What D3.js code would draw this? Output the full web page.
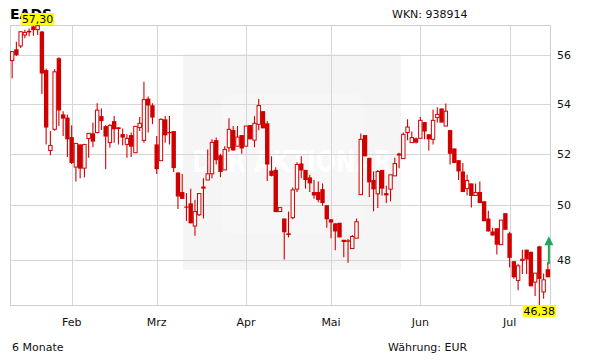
<!DOCTYPE html>
<html><head><meta charset="utf-8">
<script src="https://cdn.jsdelivr.net/npm/d3@7"></script>
<style>html,body{margin:0;padding:0;background:#fff}svg{display:block;font-family:"DejaVu Sans",sans-serif}</style>
</head><body>
<script>
const title = "EADS";
const wkn = "WKN: 938914";
const periodLabel = "6 Monate";
const currencyLabel = "Währung: EUR";
const open  = [55.78,56.26,56.40,56.87,57.05,57.24,57.10,57.02,55.38,52.12,52.96,55.88,53.56,53.43,52.65,51.47,52.36,51.43,52.59,52.80,52.83,53.49,53.09,52.43,53.29,53.04,52.77,52.36,52.73,52.03,53.03,52.52,54.20,53.93,52.36,51.72,53.36,52.85,52.89,51.26,50.51,49.96,50.08,49.23,49.65,50.72,50.97,51.21,52.53,51.93,51.36,52.23,52.93,52.29,52.73,52.29,53.13,52.53,53.16,53.69,53.20,51.33,51.36,49.77,49.51,48.96,49.54,50.62,51.61,51.36,51.07,50.51,50.51,50.62,50.01,49.48,49.33,49.35,48.72,48.70,48.40,48.78,50.41,52.73,51.83,50.97,50.44,51.36,50.47,50.62,51.13,52.00,51.80,52.83,52.43,52.60,52.60,53.25,52.76,52.56,53.43,53.80,53.09,52.93,52.20,51.74,51.30,50.64,50.84,50.38,50.51,50.16,49.51,49.03,49.15,48.54,49.71,48.96,47.94,47.25,47.97,48.36,48.28,47.19,48.48,46.84,47.65];
const high  = [56.19,56.58,57.02,57.10,57.15,57.27,57.30,57.04,55.45,52.89,55.42,55.92,53.69,53.56,53.12,52.40,52.36,52.36,52.80,53.23,54.01,53.80,53.12,53.16,53.49,53.04,52.99,52.76,52.83,53.08,53.45,54.90,54.29,54.01,52.69,53.40,53.49,53.49,52.89,51.26,51.20,50.47,50.64,50.22,50.47,51.04,52.16,52.56,52.63,51.99,52.29,53.40,53.09,53.09,52.73,53.09,53.13,53.49,54.19,53.69,53.29,51.89,51.46,49.95,49.51,49.77,50.68,51.66,51.89,51.36,51.17,50.97,50.91,50.84,50.01,49.48,49.33,49.35,48.72,48.75,48.90,49.51,52.79,52.73,51.83,51.30,51.36,51.36,50.75,51.17,51.83,52.03,52.83,53.36,52.87,52.63,53.45,53.25,52.76,53.76,53.85,53.80,54.00,52.93,52.20,51.74,51.63,51.17,50.84,50.84,50.91,50.16,49.80,49.17,49.15,49.45,49.71,49.02,47.94,47.85,48.36,48.36,48.28,47.51,48.50,47.50,47.91];
const low   = [55.04,55.97,56.31,56.73,56.81,56.84,56.87,54.39,52.36,51.93,52.90,53.09,52.69,51.86,51.59,50.91,51.04,51.07,51.83,52.25,52.80,52.93,51.39,52.23,52.43,52.36,52.32,51.83,51.86,52.03,52.89,52.43,52.83,53.16,51.20,51.72,52.43,52.36,51.28,49.87,50.25,49.42,49.33,48.87,49.60,49.51,50.97,51.04,51.57,51.08,51.36,52.07,52.12,52.29,51.99,52.29,52.56,52.25,52.92,53.00,50.93,51.11,49.75,49.75,48.00,48.81,49.48,50.51,51.04,50.64,50.51,50.25,50.12,49.99,49.17,48.78,48.34,48.81,48.08,47.88,48.40,48.78,50.41,51.89,50.32,49.78,49.90,50.38,50.09,50.16,51.13,51.43,51.80,52.52,52.43,52.40,52.60,52.56,52.12,52.36,53.23,53.23,53.09,51.57,51.63,50.97,50.51,50.38,49.92,50.38,50.09,49.41,49.03,48.88,48.18,48.54,49.09,47.71,47.31,46.90,47.48,47.48,47.04,46.70,46.38,46.60,47.36];
const close = [56.16,56.01,57.01,56.98,56.98,57.08,57.27,55.24,53.03,52.32,55.31,53.72,53.39,52.56,51.63,52.40,51.41,52.36,52.80,52.47,53.73,53.29,52.67,53.12,52.96,52.97,52.63,52.60,52.27,53.08,53.20,54.16,53.92,53.43,51.39,53.36,52.72,52.80,51.43,50.34,50.25,49.92,49.33,49.77,50.45,50.64,51.21,52.44,51.74,51.28,52.16,52.96,52.12,52.65,52.20,53.09,52.56,53.20,53.92,53.00,51.57,51.13,49.75,49.92,49.00,48.90,50.59,51.57,51.34,50.97,50.84,50.38,50.21,50.09,49.48,49.36,49.03,48.81,48.64,48.65,48.84,49.39,52.56,51.89,50.88,50.61,51.30,50.64,50.38,51.17,51.61,51.92,52.76,53.05,52.63,52.43,53.32,52.87,52.56,53.32,53.56,53.23,53.69,51.99,51.63,51.30,50.51,50.95,50.36,50.49,50.09,49.41,49.03,48.88,48.54,49.45,49.09,48.06,47.36,47.77,48.01,48.00,47.04,47.51,47.30,47.27,47.36];
const monthLabels = ["Feb","Mrz","Apr","Mai","Jun","Jul"];
const monthStartIndex = [14,34,55,75,96,117];
const yTicks = [48,50,52,54,56];

const W = 611, H = 364;
const m = {left:10, right:550, top:25, bottom:305};
const red = "#d10000", grid = "#d6d6d6";
const n = open.length;
const idx = d3.range(n);
const x = d3.scaleBand().domain(idx).range([m.left, m.right]);
const cx = i => x(i) + x.bandwidth()/2;
const yMin = d3.min(low), yMax = d3.max(high);
const y = d3.scaleLog().domain([yMin, yMax]).range([m.bottom, m.top]);
const fmt = v => v.toFixed(2).replace(".", ",");

const svg = d3.select("body").append("svg").attr("width", W).attr("height", H);

// watermark
svg.append("rect").attr("x",183).attr("y",54).attr("width",218).attr("height",216).attr("fill","#f5f5f5");
svg.append("rect").attr("x",221).attr("y",94).attr("width",143).attr("height",140).attr("rx",12).attr("fill","#f7f7f7");
svg.append("text").attr("x",192).attr("y",172).attr("textLength",200).attr("lengthAdjust","spacingAndGlyphs")
  .attr("font-size",30).attr("font-weight","bold").attr("fill","#ffffff").text("DER AKTIONÄR");

// grid
const px = v => Math.round(v) + 0.5;
svg.append("g").selectAll("line").data(yTicks).join("line")
  .attr("x1", m.left).attr("x2", m.right)
  .attr("y1", d => px(y(d))).attr("y2", d => px(y(d)))
  .attr("stroke", grid);
svg.append("g").selectAll("line").data(monthStartIndex).join("line")
  .attr("x1", d => px(cx(d))).attr("x2", d => px(cx(d)))
  .attr("y1", m.top).attr("y2", m.bottom)
  .attr("stroke", grid);
svg.append("rect").attr("x", m.left+0.5).attr("y", m.top+0.5)
  .attr("width", m.right-m.left).attr("height", m.bottom-m.top)
  .attr("fill","none").attr("stroke","#cfcfcf");

// candles
const bw = 4.4;
const g = svg.append("g");
g.selectAll("line").data(idx).join("line")
  .attr("x1", i => cx(i)).attr("x2", i => cx(i))
  .attr("y1", i => y(high[i])).attr("y2", i => y(low[i]))
  .attr("stroke", red).attr("stroke-width", 1.1);
g.selectAll("rect").data(idx).join("rect")
  .attr("x", i => cx(i) - bw/2 + (close[i] >= open[i] ? 0.5 : 0))
  .attr("width", i => close[i] >= open[i] ? bw - 1 : bw)
  .attr("y", i => y(Math.max(open[i], close[i])))
  .attr("height", i => Math.max(1.2, Math.abs(y(open[i]) - y(close[i]))))
  .attr("fill", i => close[i] >= open[i] ? "#ffffff" : red)
  .attr("stroke", i => close[i] >= open[i] ? red : "none")
  .attr("stroke-width", 1);

// axes labels
svg.append("g").selectAll("text").data(yTicks).join("text")
  .attr("x", 557).attr("y", d => y(d) + 4).attr("font-size", 11).attr("fill","#111").text(d => d);
svg.append("g").selectAll("text").data(monthStartIndex).join("text")
  .attr("x", d => cx(d)).attr("y", 326).attr("text-anchor","middle").attr("font-size",11).attr("fill","#111")
  .text((d,i) => monthLabels[i]);

svg.append("text").attr("x",10).attr("y",19).attr("font-size",14).attr("font-weight","bold").attr("fill","#000").text(title);
svg.append("text").attr("x",392).attr("y",18).attr("font-size",11).attr("fill","#111").text(wkn);
svg.append("text").attr("x",12).attr("y",351).attr("font-size",11).attr("fill","#111").text(periodLabel);
svg.append("text").attr("x",388).attr("y",351).attr("font-size",11).attr("fill","#111").text(currencyLabel);

// min / max labels
const iMax = d3.maxIndex(high), iMin = d3.minIndex(low);
function tag(i, v, top) {
  const c = cx(i), w = 33, h = 12;
  svg.append("rect").attr("x", c - w/2).attr("y", top).attr("width", w).attr("height", h).attr("fill", "#ffff00");
  svg.append("text").attr("x", c).attr("y", top + 10).attr("text-anchor","middle").attr("font-size", 11).attr("fill","#000").text(fmt(v));
}
tag(iMax, yMax, m.top - 12);
tag(iMin, yMin, m.bottom);

// trend arrow
const ax = cx(n-1) + 1;
const last = close[n-1];
svg.append("path")
  .attr("d", `M${ax-1},${y(last)-13} V${y(last)-32} H${ax-4.5} L${ax},${y(last)-41} L${ax+4.5},${y(last)-32} H${ax+1} V${y(last)-13} Z`)
  .attr("fill", "#1fa65a");
</script>
</body></html>
